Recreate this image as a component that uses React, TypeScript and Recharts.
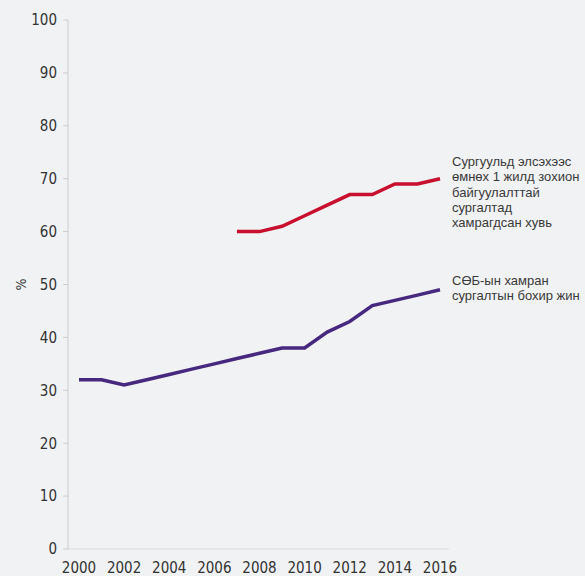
import { LineChart, Line, XAxis, YAxis } from "recharts";

const years = [
	2000, 2001, 2002, 2003, 2004, 2005, 2006, 2007, 2008, 2009, 2010, 2011,
	2012, 2013, 2014, 2015, 2016,
];
const grossEnrolment = [
	32, 32, 31, 32, 33, 34, 35, 36, 37, 38, 38, 41, 43, 46, 47, 48, 49,
];
const organisedLearning = [
	null, null, null, null, null, null, null, 60, 60, 61, 63, 65, 67, 67, 69, 69,
	70,
];
const xTicks = [2000, 2002, 2004, 2006, 2008, 2010, 2012, 2014, 2016];
const yTicks = [0, 10, 20, 30, 40, 50, 60, 70, 80, 90, 100];

const redLabel = [
	"Сургуульд элсэхээс",
	"өмнөх 1 жилд зохион",
	"байгуулалттай",
	"сургалтад",
	"хамрагдсан хувь",
];
const purpleLabel = ["СӨБ-ын хамран", "сургалтын бохир жин"];

const data = years.map((year, i) => ({
	year,
	enrol: grossEnrolment[i],
	organised: organisedLearning[i],
}));

const tickFont = "'Liberation Sans Narrow', 'DejaVu Sans Condensed', sans-serif";
const labelFont = "'Liberation Sans', Arial, sans-serif";

const endLabel = (lines: string[], offsetY: number) => (props: any) => {
	const { x, y, index } = props;
	if (index !== data.length - 1) return null;
	return (
		<text
			x={x + 12}
			y={y + offsetY}
			fontSize={13}
			fill="#3a3a3a"
			fontFamily={labelFont}
		>
			{lines.map((line, i) => (
				<tspan key={i} x={x + 12} dy={i === 0 ? 0 : 15.4}>
					{line}
				</tspan>
			))}
		</text>
	);
};

const percentLabel = (props: any) => {
	const { viewBox } = props;
	const cy = viewBox.y + viewBox.height / 2;
	return (
		<text
			x={21}
			y={cy}
			transform={`rotate(-90, 21, ${cy})`}
			textAnchor="middle"
			dominantBaseline="central"
			fontSize={14}
			fill="#333"
			fontFamily={tickFont}
		>
			%
		</text>
	);
};

const App = () => {
	return (
		<div style={{ width: 585, height: 576, background: "#f1f2f4" }}>
			<style>{"body{margin:0}"}</style>
			<LineChart
				width={585}
				height={576}
				data={data}
				margin={{ top: 20, right: 136, bottom: 0, left: 0 }}
			>
				<XAxis
					dataKey="year"
					type="number"
					domain={[2000, 2016]}
					ticks={xTicks}
					padding={{ left: 11, right: 9 }}
					height={27}
					tickLine={false}
					tickSize={0}
					tickMargin={13}
					axisLine={{ stroke: "#d9d9d9" }}
					tick={{ fontSize: 15, fill: "#333", fontFamily: tickFont }}
					interval={0}
				/>
				<YAxis
					domain={[0, 100]}
					ticks={yTicks}
					width={68}
					tickSize={5}
					tickMargin={6}
					tickLine={{ stroke: "#cccccc" }}
					axisLine={{ stroke: "#cccccc" }}
					tick={{ fontSize: 15, fill: "#333", fontFamily: tickFont }}
					interval={0}
					label={percentLabel}
				/>
				<Line
					dataKey="organised"
					stroke="#c8102e"
					strokeWidth={3.5}
					dot={false}
					activeDot={false}
					isAnimationActive={false}
					label={endLabel(redLabel, -13)}
				/>
				<Line
					dataKey="enrol"
					stroke="#46297f"
					strokeWidth={3.5}
					dot={false}
					activeDot={false}
					isAnimationActive={false}
					label={endLabel(purpleLabel, -5)}
				/>
			</LineChart>
		</div>
	);
};

export default App;
